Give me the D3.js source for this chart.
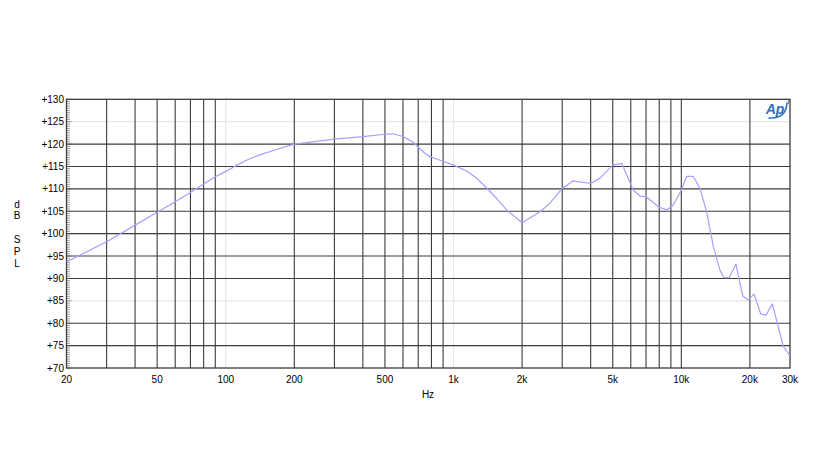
<!DOCTYPE html>
<html><head><meta charset="utf-8">
<script src="https://cdn.jsdelivr.net/npm/d3@7"></script>
<style>body{margin:0;background:#fff}svg{display:block}text{font-family:"Liberation Sans",Arial,Helvetica,sans-serif}</style>
</head><body>
<svg id="c" width="837" height="467"></svg>
<script>
const freqs = [20,30,40,50,60,70,80,90,100,112,126,141,167,200,250,300,400,500,544,600,666,700,750,788,873,1000,1143,1270,1399,1550,1711,2000,2397,2652,3000,3356,4000,4396,5000,5474,6155,6585,7000,8000,8627,9223,10000,10556,11284,12077,12926,13822,14784,15387,16238,17378,18597,19681,20845,22305,23537,25094,28043,30000];
const spl   = [93.7,98.2,101.9,104.8,107.1,109.2,111.1,112.7,113.9,115.3,116.6,117.6,118.8,120.0,120.6,121.1,121.65,122.2,122.3,121.7,120.4,119.3,117.9,117.2,116.4,115.3,114.0,112.3,110.2,107.8,105.3,102.45,104.9,106.8,110.1,111.8,111.2,112.4,115.3,115.7,109.7,108.4,108.25,105.9,105.3,106.4,109.7,112.8,112.8,110.1,104.8,97.1,91.8,90.2,90.2,93.2,86.1,85.2,86.5,82.1,81.8,84.3,74.8,72.7];
const xTickVals = [20,50,100,200,500,1000,2000,5000,10000,20000,30000];
const xTickLabels = ["20","50","100","200","500","1k","2k","5k","10k","20k","30k"];
const xGrid = [30,40,50,60,70,80,90,200,300,400,500,600,700,800,900,2000,3000,4000,5000,6000,7000,8000,9000,10000,20000];
const xGridFaint = [100,1000];
const yTickVals = [70,75,80,85,90,95,100,105,110,115,120,125,130];
const yGridFaint = [85,125];
const yLabelChars = ["d","B","","S","P","L"];

const svg = d3.select("#c");
const L=66.5, R=790, T=99.3, B=368;
const x = d3.scaleLog().domain([20,30000]).range([L,R]);
const y = d3.scaleLinear().domain([70,130]).range([B,T]);
const g = svg.append("g");

g.selectAll(".xf").data(xGridFaint).enter().append("line")
 .attr("x1",d=>x(d)).attr("x2",d=>x(d)).attr("y1",T).attr("y2",B)
 .attr("stroke","#e6e6e6").attr("stroke-width",1.2);
g.selectAll(".yf").data(yGridFaint).enter().append("line")
 .attr("x1",L).attr("x2",R).attr("y1",d=>y(d)).attr("y2",d=>y(d))
 .attr("stroke","#e6e6e6").attr("stroke-width",1.2);
g.selectAll(".xg").data(xGrid).enter().append("line")
 .attr("x1",d=>x(d)).attr("x2",d=>x(d)).attr("y1",T).attr("y2",B)
 .attr("stroke","#3c3c3c").attr("stroke-width",1.1);
g.selectAll(".yg").data(yTickVals.filter(v=>v>70&&v<130&&!yGridFaint.includes(v))).enter().append("line")
 .attr("x1",L).attr("x2",R).attr("y1",d=>y(d)).attr("y2",d=>y(d))
 .attr("stroke","#3c3c3c").attr("stroke-width",1.1);
const minor = d3.range(70,130.01,0.5);
g.selectAll(".mt").data(minor).enter().append("line")
 .attr("x1",L).attr("x2",d=>L+(d%5===0?5:3.5)).attr("y1",d=>y(d)).attr("y2",d=>y(d))
 .attr("stroke","#555").attr("stroke-width",0.6);
g.append("rect").attr("x",L).attr("y",T).attr("width",R-L).attr("height",B-T)
 .attr("fill","none").attr("stroke","#3c3c3c").attr("stroke-width",1.3);

const line = d3.line().x((d,i)=>x(freqs[i])).y(d=>y(d)).curve(d3.curveLinear);
g.append("path").attr("d",line(spl)).attr("fill","none")
 .attr("stroke","#a4a0ff").attr("stroke-width",1.2).attr("stroke-linejoin","round");

g.selectAll(".yl").data(yTickVals).enter().append("text")
 .attr("x",64).attr("y",d=>y(d)).attr("dy","0.35em").attr("text-anchor","end")
 .attr("font-size",10).attr("fill","#000").text(d=>"+"+d);
g.selectAll(".xl").data(xTickVals).enter().append("text")
 .attr("x",d=>x(d)).attr("y",379).attr("dy","0.35em").attr("text-anchor","middle")
 .attr("font-size",10).attr("fill","#000").text((d,i)=>xTickLabels[i]);
g.append("text").attr("x",428).attr("y",394).attr("dy","0.35em").attr("text-anchor","middle")
 .attr("font-size",10).attr("fill","#000").text("Hz");
g.selectAll(".yc").data(yLabelChars).enter().append("text")
 .attr("x",17).attr("y",(d,i)=>204+i*11.8).attr("dy","0.35em").attr("text-anchor","middle")
 .attr("font-size",10).attr("fill","#000").text(d=>d);

g.append("text").attr("x",775).attr("y",114).attr("text-anchor","middle")
 .attr("font-size",14).attr("font-weight","bold").attr("font-style","italic")
 .attr("fill","#2d6fc0").text("Ap");
g.append("path").attr("d","M 769 118 Q 786 119 787 103").attr("fill","none")
 .attr("stroke","#2d6fc0").attr("stroke-width",1.6).attr("stroke-linecap","round");
g.append("text").attr("x",788.5).attr("y",104).attr("text-anchor","middle")
 .attr("font-size",7).attr("fill","#444").text("T");
</script>
</body></html>
